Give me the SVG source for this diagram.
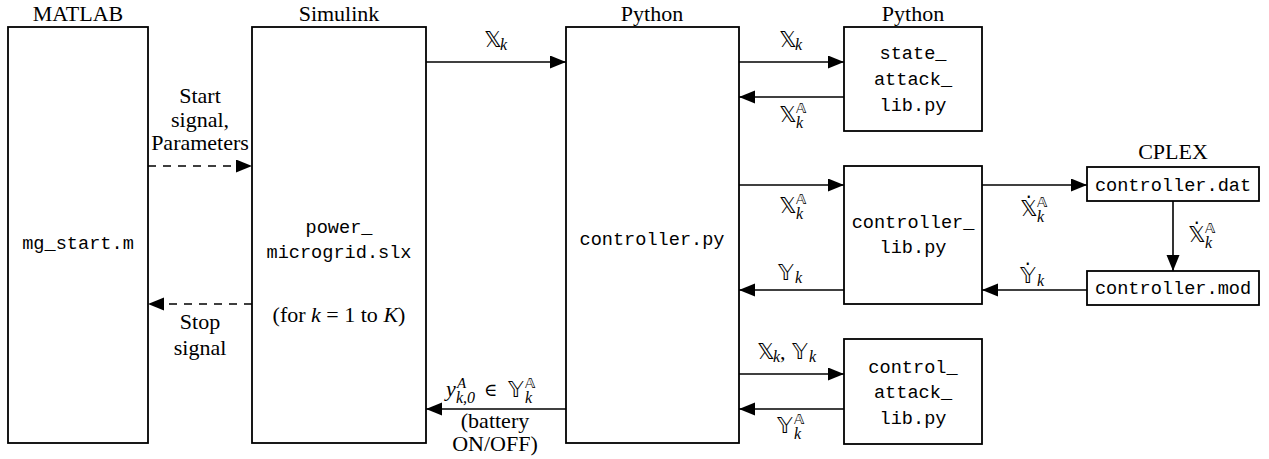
<svg xmlns="http://www.w3.org/2000/svg" width="1269" height="459" viewBox="0 0 1269 459">
<style>
.box{fill:#fff;stroke:#000;stroke-width:1.8}
.ln{fill:none;stroke:#000;stroke-width:1.6}
.dash{stroke-dasharray:8 7}
.t{font-family:"Liberation Serif","DejaVu Serif",serif;font-size:22px;fill:#000}
.mid{text-anchor:middle}
.c{font-family:"Liberation Mono","DejaVu Sans Mono",monospace;font-size:18.6px;fill:#000;text-anchor:middle}
.m{fill:#000}
.bb{font-family:"DejaVu Sans","DejaVu Serif",sans-serif;font-size:22px}
.sup{font-family:"DejaVu Sans","DejaVu Serif",sans-serif;font-size:14px}
.sub{font-family:"Liberation Serif","DejaVu Serif",serif;font-style:italic;font-size:16px}
.it{font-style:italic}
.dt{font-family:"Liberation Serif","DejaVu Serif",serif;font-size:22px}
</style>
<defs>
<marker id="ah" markerUnits="userSpaceOnUse" markerWidth="17" markerHeight="14" refX="16" refY="6.5" orient="auto">
<path d="M0,0 L16,6.5 L0,13 z" fill="#000"/>
</marker>
</defs>

<g id="matlab">
<rect class="box" x="8" y="27" width="140" height="416"/>
<text class="t mid" x="78" y="21">MATLAB</text>
<text class="c" x="78" y="249">mg_start.m</text>
</g>

<g id="simulink">
<rect class="box" x="252" y="27" width="174" height="416"/>
<text class="t mid" x="339" y="21">Simulink</text>
<text class="c" x="339" y="233">power_</text>
<text class="c" x="339" y="258">microgrid.slx</text>
<text class="t mid" x="339" y="322">(for <tspan class="it">k</tspan> = 1 to <tspan class="it">K</tspan>)</text>
</g>

<g id="controller">
<rect class="box" x="566" y="27" width="173" height="416"/>
<text class="t mid" x="652" y="21">Python</text>
<text class="c" x="652" y="245">controller.py</text>
</g>

<g id="state_attack">
<rect class="box" x="844" y="27" width="138" height="104"/>
<text class="t mid" x="913" y="21">Python</text>
<text class="c" x="913" y="59">state_</text>
<text class="c" x="913" y="85">attack_</text>
<text class="c" x="913" y="111">lib.py</text>
</g>

<g id="controller_lib">
<rect class="box" x="844" y="166" width="138" height="138"/>
<text class="c" x="913" y="228">controller_</text>
<text class="c" x="913" y="253">lib.py</text>
</g>

<g id="control_attack">
<rect class="box" x="844" y="339" width="138" height="105"/>
<text class="c" x="913" y="373">control_</text>
<text class="c" x="913" y="398">attack_</text>
<text class="c" x="913" y="424">lib.py</text>
</g>

<g id="cplex_dat">
<rect class="box" x="1087" y="167" width="172" height="34"/>
<text class="t mid" x="1173" y="159">CPLEX</text>
<text class="c" x="1173" y="191">controller.dat</text>
</g>

<g id="cplex_mod">
<rect class="box" x="1087" y="271" width="172" height="34"/>
<text class="c" x="1173" y="294">controller.mod</text>
</g>

<g id="connectors">
<line class="ln" x1="426" y1="62" x2="566" y2="62" marker-end="url(#ah)"/>
<line class="ln" x1="739" y1="62" x2="844" y2="62" marker-end="url(#ah)"/>
<line class="ln" x1="844" y1="97" x2="739" y2="97" marker-end="url(#ah)"/>
<line class="ln" x1="739" y1="185" x2="844" y2="185" marker-end="url(#ah)"/>
<line class="ln" x1="844" y1="290" x2="739" y2="290" marker-end="url(#ah)"/>
<line class="ln" x1="982" y1="185" x2="1087" y2="185" marker-end="url(#ah)"/>
<line class="ln" x1="1173" y1="201" x2="1173" y2="271" marker-end="url(#ah)"/>
<line class="ln" x1="1087" y1="290" x2="982" y2="290" marker-end="url(#ah)"/>
<line class="ln" x1="739" y1="374" x2="844" y2="374" marker-end="url(#ah)"/>
<line class="ln" x1="844" y1="409" x2="739" y2="409" marker-end="url(#ah)"/>
<line class="ln" x1="566" y1="409" x2="426" y2="409" marker-end="url(#ah)"/>
<line class="ln dash" x1="148" y1="166" x2="252" y2="166" marker-end="url(#ah)"/>
<line class="ln dash" x1="252" y1="304" x2="148" y2="304" marker-end="url(#ah)"/>
</g>

<g id="labels">
<text class="t mid" x="200" y="103">Start</text>
<text class="t mid" x="200" y="127">signal,</text>
<text class="t mid" x="200" y="150">Parameters</text>
<text class="t mid" x="200" y="329">Stop</text>
<text class="t mid" x="200" y="355">signal</text>

<text class="m"><tspan class="bb" x="484" y="47">𝕏</tspan><tspan class="sub" x="500" y="50">k</tspan></text>
<text class="m"><tspan class="bb" x="779" y="47">𝕏</tspan><tspan class="sub" x="795" y="50">k</tspan></text>

<text class="m"><tspan class="bb" x="779" y="122">𝕏</tspan><tspan class="sup" x="796" y="113">𝔸</tspan><tspan class="sub" x="796" y="128">k</tspan></text>

<text class="m"><tspan class="bb" x="779" y="213">𝕏</tspan><tspan class="sup" x="796" y="204">𝔸</tspan><tspan class="sub" x="796" y="219">k</tspan></text>

<text class="m"><tspan class="bb" x="778" y="280">𝕐</tspan><tspan class="sub" x="795" y="283">k</tspan></text>

<text class="m"><tspan class="bb" x="1020" y="216">𝕏̇</tspan><tspan class="sup" x="1037" y="207">𝔸</tspan><tspan class="sub" x="1037" y="222">k</tspan></text>

<text class="m"><tspan class="bb" x="1188" y="242">𝕏̇</tspan><tspan class="sup" x="1205" y="233">𝔸</tspan><tspan class="sub" x="1205" y="248">k</tspan></text>

<text class="m"><tspan class="bb" x="1020" y="283">𝕐̇</tspan><tspan class="sub" x="1037" y="286">k</tspan></text>

<text class="m"><tspan class="bb" x="757" y="359">𝕏</tspan><tspan class="sub" x="773" y="362">k</tspan><tspan class="dt" x="780" y="359">,</tspan><tspan class="bb" x="792" y="359">𝕐</tspan><tspan class="sub" x="809" y="362">k</tspan></text>

<text class="m"><tspan class="bb" x="777" y="433">𝕐</tspan><tspan class="sup" x="794" y="424">𝔸</tspan><tspan class="sub" x="794" y="439">k</tspan></text>

<text class="m"><tspan class="dt it" x="446" y="396">y</tspan><tspan class="dt it" style="font-size:15px" x="457" y="388">A</tspan><tspan class="sub" x="456" y="403">k,0</tspan><tspan style="font-family:'DejaVu Serif',serif;font-size:18px" x="484" y="396">∈</tspan><tspan class="bb" x="508" y="397">𝕐</tspan><tspan class="sup" x="525" y="388">𝔸</tspan><tspan class="sub" x="525" y="403">k</tspan></text>
<text class="t mid" x="495" y="428">(battery</text>
<text class="t mid" x="495" y="451">ON/OFF)</text>
</g>
</svg>
